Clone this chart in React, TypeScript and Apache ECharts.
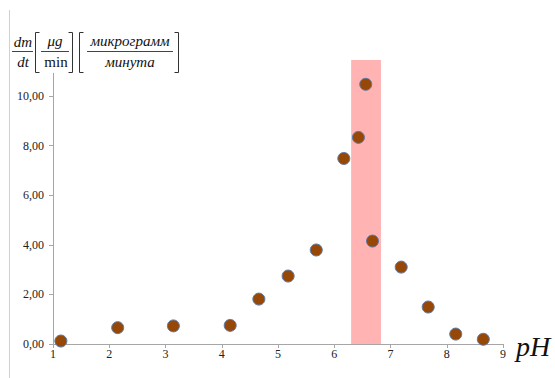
import React, { useEffect, useRef } from "react";
import * as echarts from "echarts";

const phValues = [1.14, 2.15, 3.14, 4.15, 4.66, 5.18, 5.68, 6.17, 6.43, 6.56, 6.68, 7.19, 7.67, 8.16, 8.65];
const rateValues = [0.12, 0.66, 0.73, 0.75, 1.81, 2.74, 3.79, 7.48, 8.33, 10.47, 4.15, 3.10, 1.49, 0.40, 0.19];
const yTickValues = [0, 2, 4, 6, 8, 10];
const bandRange = [6.3, 6.83];
const bandTop = 11.45;
const yAxisTop = 10.93;

export default function App() {
  const ref = useRef<HTMLDivElement>(null);
  useEffect(() => {
    document.body.style.margin = "0";
    const chart = echarts.init(ref.current!, undefined, { renderer: "svg" });
    const serif = "Liberation Serif";
    const textCol = "#222";
    const brk = (x: number, dir: number) => ({
      type: "polyline",
      shape: { points: [[x + 4 * dir, 32.5], [x, 32.5], [x, 72.5], [x + 4 * dir, 72.5]] },
      style: { stroke: "#333", lineWidth: 1, fill: null },
    });
    const txt = (x: number, y: number, text: string, italic = true) => ({
      type: "text",
      x,
      y,
      style: {
        text,
        fontFamily: serif,
        fontStyle: italic ? "italic" : "normal",
        fontSize: 15,
        fill: "#111",
        align: "center",
        verticalAlign: "middle",
      },
    });
    chart.setOption({
      animation: false,
      grid: { left: 53, right: 52, top: 60, bottom: 34 },
      xAxis: {
        type: "value",
        min: 1,
        max: 9,
        interval: 1,
        splitLine: { show: false },
        axisLine: { lineStyle: { color: "#a6a6a6" } },
        axisTick: { show: true, length: 4, lineStyle: { color: "#a6a6a6" } },
        axisLabel: { margin: 4, color: textCol, fontFamily: serif, fontSize: 12 },
      },
      yAxis: {
        type: "value",
        min: 0,
        max: bandTop,
        splitLine: { show: false },
        axisLine: { show: false },
        axisTick: { show: true, length: 4, lineStyle: { color: "#a6a6a6" }, customValues: yTickValues },
        axisLabel: {
          margin: 9,
          color: textCol,
          fontFamily: serif,
          fontSize: 12,
          customValues: yTickValues,
          formatter: (v: number) => v.toFixed(2).replace(".", ","),
        },
      },
      series: [
        {
          type: "scatter",
          data: phValues.map((x, i) => [x, rateValues[i]]),
          symbol: "circle",
          symbolSize: 12,
          clip: false,
          itemStyle: { color: "#974706", borderColor: "#5b7aa6", borderWidth: 1, opacity: 1 },
          z: 5,
          markArea: {
            silent: true,
            itemStyle: { color: "#ffb3b3", opacity: 1 },
            data: [[{ xAxis: bandRange[0], yAxis: 0 }, { xAxis: bandRange[1], yAxis: bandTop }]],
          },
          markLine: {
            silent: true,
            symbol: "none",
            label: { show: false },
            lineStyle: { color: "#a6a6a6", type: "solid", width: 1 },
            data: [[{ coord: [1, 0] }, { coord: [1, yAxisTop] }]],
          },
        },
      ],
      graphic: [
        { type: "line", shape: { x1: 9.5, y1: 10, x2: 9.5, y2: 378 }, style: { stroke: "#d0d0d0", lineWidth: 1 } },
        txt(23, 42, "dm"),
        { type: "line", shape: { x1: 12, y1: 51.5, x2: 33, y2: 51.5 }, style: { stroke: "#444", lineWidth: 1 } },
        txt(23, 62, "dt"),
        brk(35.5, 1),
        txt(55, 41, "μg"),
        { type: "line", shape: { x1: 41, y1: 51.5, x2: 69, y2: 51.5 }, style: { stroke: "#444", lineWidth: 1 } },
        txt(56, 62, "min", false),
        brk(72.5, -1),
        brk(79.5, 1),
        txt(130, 41, "микрограмм"),
        { type: "line", shape: { x1: 87, y1: 51.5, x2: 173, y2: 51.5 }, style: { stroke: "#444", lineWidth: 1 } },
        txt(130, 62, "минута"),
        brk(178.5, -1),
        {
          type: "text",
          x: 533,
          y: 346,
          style: { text: "pH", fontFamily: serif, fontStyle: "italic", fontSize: 28, fill: "#111", align: "center", verticalAlign: "middle" },
        },
      ],
    });
    return () => chart.dispose();
  }, []);
  return <div ref={ref} style={{ width: 555, height: 378 }} />;
}
